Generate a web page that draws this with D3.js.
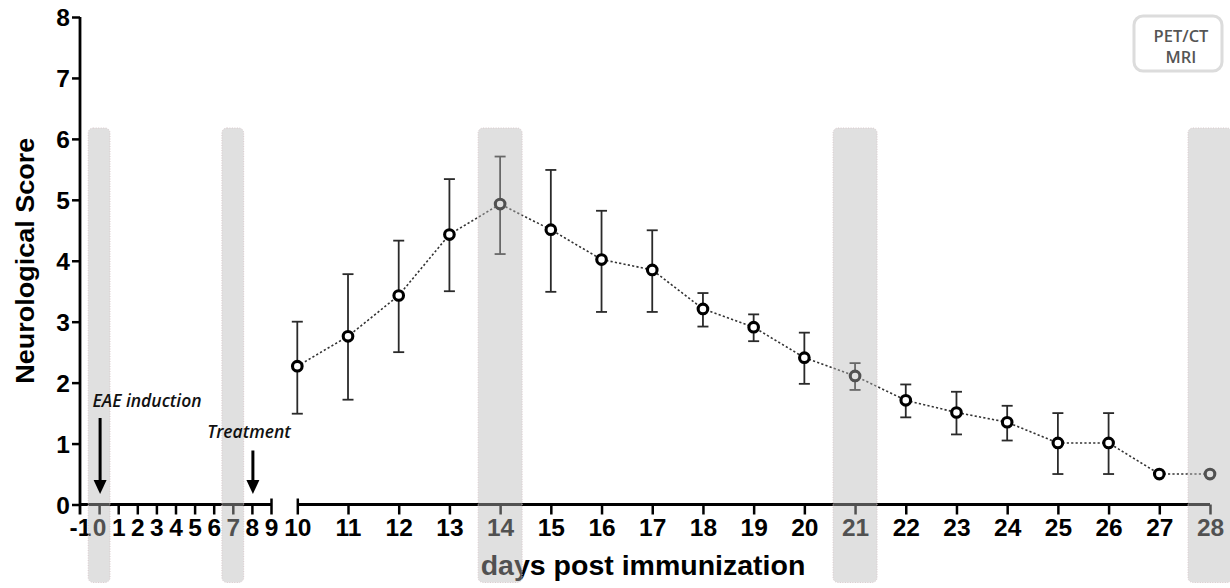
<!DOCTYPE html>
<html>
<head>
<meta charset="utf-8">
<script src="https://cdn.jsdelivr.net/npm/d3@7"></script>
<style>
  html, body { margin: 0; padding: 0; background: #fff; }
  svg { display: block; }
</style>
</head>
<body>
<svg id="chart" width="1230" height="588"></svg>
<script>
// ---------- data ----------
const leftTickDays = [-1, 0, 1, 2, 3, 4, 5, 6, 7, 8, 9];
const rightTickDays = [10, 11, 12, 13, 14, 15, 16, 17, 18, 19, 20, 21, 22, 23, 24, 25, 26, 27, 28];
const yTicks = [0, 1, 2, 3, 4, 5, 6, 7, 8];
const days = [10, 11, 12, 13, 14, 15, 16, 17, 18, 19, 20, 21, 22, 23, 24, 25, 26, 27, 28];
const meanScore = [2.27, 2.76, 3.43, 4.43, 4.93, 4.51, 4.02, 3.85, 3.21, 2.91, 2.41, 2.11, 1.71, 1.51, 1.35, 1.01, 1.01, 0.5, 0.5];
const upperScore = [3.0, 3.78, 4.33, 5.34, 5.71, 5.49, 4.82, 4.50, 3.47, 3.12, 2.82, 2.32, 1.97, 1.85, 1.62, 1.50, 1.50, null, null];
const lowerScore = [1.49, 1.72, 2.50, 3.50, 4.11, 3.49, 3.16, 3.16, 2.92, 2.68, 1.98, 1.88, 1.43, 1.15, 1.05, 0.50, 0.50, null, null];
const imagingDays = [0, 7, 14, 21, 28];
const annotations = [
  { day: 0, label: "EAE induction" },
  { day: 8, label: "Treatment" }
];
const legendLines = ["PET/CT", "MRI"];
const yTitle = "Neurological Score";
const xTitle = "days post immunization";

// ---------- scales ----------
const svg = d3.select("#chart");
const axisY = 504.5;
const y = d3.scaleLinear().domain([0, 8]).range([axisY, 17]);
const xLeft = d3.scaleLinear().domain([-1, 9]).range([80, 271]);
const xRight = d3.scaleLinear().domain([10, 28]).range([297.3, 1210]);

const FONT = "'Liberation Sans', Arial, sans-serif";
const AXIS_W = 2.8;
const TICK_FS = 24.5;

// ---------- y axis ----------
const gy = svg.append("g").attr("transform", "translate(80,0)")
  .call(d3.axisLeft(y).tickValues(yTicks).tickSize(8).tickSizeOuter(0).tickFormat(d => String(d)));
gy.select(".domain").remove();
gy.selectAll(".tick line").attr("stroke", "#000").attr("stroke-width", 2.5);
gy.selectAll(".tick text").attr("x", -10).attr("dy", "0.36em")
  .attr("font-family", FONT).attr("font-weight", "bold").attr("font-size", TICK_FS).attr("fill", "#000");
svg.append("line").attr("x1", 80).attr("x2", 80).attr("y1", y(8)).attr("y2", axisY + 10)
  .attr("stroke", "#000").attr("stroke-width", AXIS_W);

// ---------- x axis (broken) ----------
function styleX(g) {
  g.select(".domain").remove();
  g.selectAll(".tick line").attr("stroke", "#000").attr("stroke-width", 2.5);
  g.selectAll(".tick text").attr("y", 14).attr("dy", "0.71em")
    .attr("font-family", FONT).attr("font-weight", "bold").attr("font-size", TICK_FS).attr("fill", "#000");
}
const gxl = svg.append("g").attr("transform", `translate(0,${axisY})`)
  .call(d3.axisBottom(xLeft).tickValues(leftTickDays).tickSize(10).tickSizeOuter(0).tickFormat(d => String(d)));
styleX(gxl);
gxl.selectAll(".tick").filter(d => d === -1).select("line").remove();
gxl.selectAll(".tick").filter(d => d === 9).select("line").attr("y1", -6);

const gxr = svg.append("g").attr("transform", `translate(0,${axisY})`)
  .call(d3.axisBottom(xRight).tickValues(rightTickDays).tickSize(10).tickSizeOuter(0).tickFormat(d => String(d)));
styleX(gxr);
gxr.selectAll(".tick").filter(d => d === 10).select("line").attr("y1", -6);

svg.append("line").attr("x1", xLeft(-1)).attr("x2", xLeft(9)).attr("y1", axisY).attr("y2", axisY)
  .attr("stroke", "#000").attr("stroke-width", AXIS_W);
svg.append("line").attr("x1", xRight(10)).attr("x2", xRight(28)).attr("y1", axisY).attr("y2", axisY)
  .attr("stroke", "#000").attr("stroke-width", AXIS_W);

// ---------- titles ----------
svg.append("text").attr("transform", `translate(33.5,${(y(0) + y(8)) / 2}) rotate(-90)`)
  .attr("text-anchor", "middle").attr("font-family", FONT).attr("font-weight", "bold")
  .attr("font-size", 25).attr("textLength", 246).attr("lengthAdjust", "spacingAndGlyphs")
  .text(yTitle);
svg.append("text").attr("x", 643).attr("y", 575).attr("text-anchor", "middle")
  .attr("font-family", FONT).attr("font-weight", "bold").attr("font-size", 28.5).text(xTitle);

// ---------- data series ----------
const rows = days.map((d, i) => ({ day: d, mean: meanScore[i], hi: upperScore[i], lo: lowerScore[i] }));

svg.append("path").datum(rows)
  .attr("d", d3.line().x(r => xRight(r.day)).y(r => y(r.mean)))
  .attr("fill", "none").attr("stroke", "#333").attr("stroke-width", 1.6).attr("stroke-dasharray", "2.2,2.2");

const eb = svg.append("g").attr("stroke", "#2a2a2a").attr("stroke-width", 1.8);
rows.filter(r => r.hi != null).forEach(r => {
  const cx = xRight(r.day);
  eb.append("line").attr("x1", cx).attr("x2", cx).attr("y1", y(r.hi)).attr("y2", y(r.lo));
  eb.append("line").attr("x1", cx - 5.5).attr("x2", cx + 5.5).attr("y1", y(r.hi)).attr("y2", y(r.hi));
  eb.append("line").attr("x1", cx - 5.5).attr("x2", cx + 5.5).attr("y1", y(r.lo)).attr("y2", y(r.lo));
});

svg.append("g").selectAll("circle").data(rows).join("circle")
  .attr("cx", r => xRight(r.day)).attr("cy", r => y(r.mean)).attr("r", 4.8)
  .attr("fill", "#fff").attr("stroke", "#000").attr("stroke-width", 3.1);

// ---------- imaging bands (translucent overlay) ----------
const bandTop = 128, bandBottom = 582.5;
svg.append("g").selectAll("rect").data(imagingDays).join("rect")
  .attr("x", d => d <= 9 ? xLeft(d) - 10.9 : xRight(d) - 22)
  .attr("width", d => d <= 9 ? 21.8 : 44)
  .attr("y", bandTop).attr("height", bandBottom - bandTop)
  .attr("rx", 5).attr("ry", 5)
  .attr("fill", "rgb(184,184,184)").attr("fill-opacity", 0.44)
  .attr("stroke", "#d9c9cc").attr("stroke-width", 1).attr("stroke-dasharray", "1,1.5");

// ---------- annotations (drawn above the bands) ----------
const annFont = "'Open Sans', 'DejaVu Sans', sans-serif";
annotations.forEach((a, i) => {
  const ax = xLeft(a.day) + 1;
  const top = i === 0 ? 418 : 450.5;
  const labelY = i === 0 ? 407 : 437.5;
  const labelX = i === 0 ? 147 : 249;
  svg.append("text").attr("x", labelX).attr("y", labelY).attr("text-anchor", "middle")
    .attr("font-family", annFont).attr("font-style", "italic").attr("font-weight", 600)
    .attr("font-size", 17.5).attr("fill", "#111").text(a.label);
  svg.append("line").attr("x1", ax).attr("x2", ax).attr("y1", top).attr("y2", 482)
    .attr("stroke", "#000").attr("stroke-width", 3);
  svg.append("path").attr("d", `M${ax - 6.5},480 L${ax + 6.5},480 L${ax},494 Z`).attr("fill", "#000");
});

// ---------- legend box ----------
const lg = svg.append("g");
lg.append("rect").attr("x", 1134).attr("y", 16).attr("width", 88).attr("height", 55).attr("rx", 9)
  .attr("fill", "#fff").attr("stroke", "#dcdcdc").attr("stroke-width", 3);
lg.selectAll("text").data(legendLines).join("text")
  .attr("x", 1181).attr("y", (d, i) => 41.5 + i * 21.5).attr("text-anchor", "middle")
  .attr("font-family", annFont).attr("font-weight", 600).attr("font-size", 16.5).attr("fill", "#555")
  .text(d => d);
</script>
</body>
</html>
